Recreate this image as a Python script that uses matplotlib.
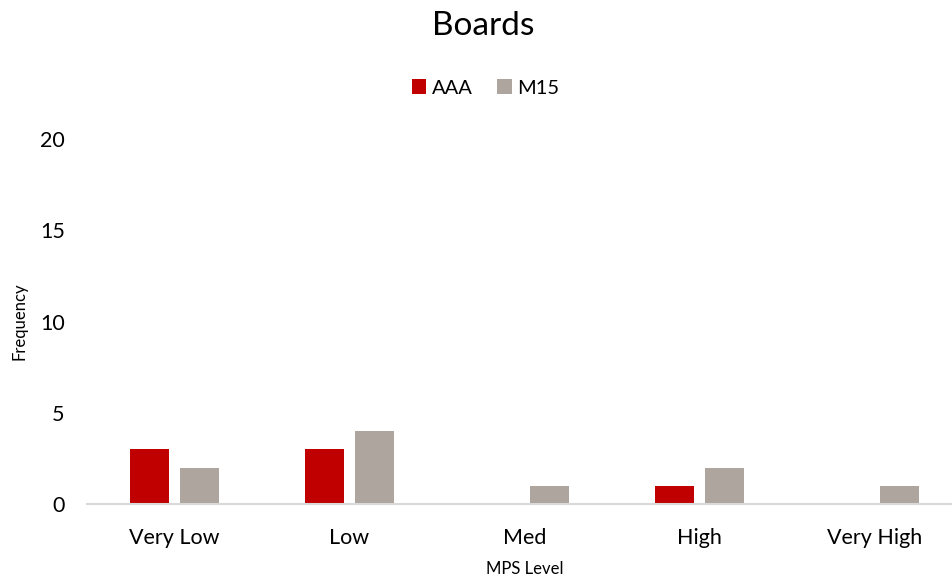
import matplotlib
matplotlib.use("Agg")
import matplotlib.pyplot as plt
import numpy as np

categories = ["Very Low", "Low", "Med", "High", "Very High"]
aaa = [3, 3, 0, 1, 0]
m15 = [2, 4, 1, 2, 1]
series_names = ["AAA", "M15"]
yticks = [0, 5, 10, 15, 20]

plt.rcParams['font.family'] = ['Lato', 'DejaVu Sans']

fig = plt.figure(figsize=(9.52, 5.84), dpi=100)
ax = fig.add_axes([87 / 952, 1 - 504 / 584, 875 / 952, 365 / 584])

x = np.arange(len(categories))
w = 0.223
off = 0.143
ax.bar(x - off, aaa, w, color="#C00000", label=series_names[0])
ax.bar(x + off, m15, w, color="#AEA69E", label=series_names[1])

ax.set_xlim(-0.5, len(categories) - 0.5)
ax.set_ylim(0, 20)
ax.set_yticks(yticks)
ax.set_xticks(x)
ax.set_xticklabels(categories)
ax.tick_params(axis="both", length=0, labelsize=15.5, colors="#000000")
ax.tick_params(axis="x", pad=17)
ax.tick_params(axis="y", pad=16)
for s in ["top", "right", "left"]:
    ax.spines[s].set_visible(False)
ax.spines["bottom"].set_color("#D9D9D9")
ax.spines["bottom"].set_linewidth(1.5)

ax.set_xlabel("MPS Level", fontsize=12, labelpad=10)
ax.set_ylabel("Frequency", fontsize=12)
ax.yaxis.set_label_coords(-59 / 875, 0.5)

fig.text(483 / 952, 1 - 26 / 584, "Boards", ha="center", va="center", fontsize=24)
fig.legend(loc="center", bbox_to_anchor=(486 / 952, 1 - 88 / 584), ncol=2, frameon=False,
           fontsize=14.5, handlelength=0.7, handleheight=0.7, handletextpad=0.3, columnspacing=1.2)

fig.savefig("out.png", dpi=100)
